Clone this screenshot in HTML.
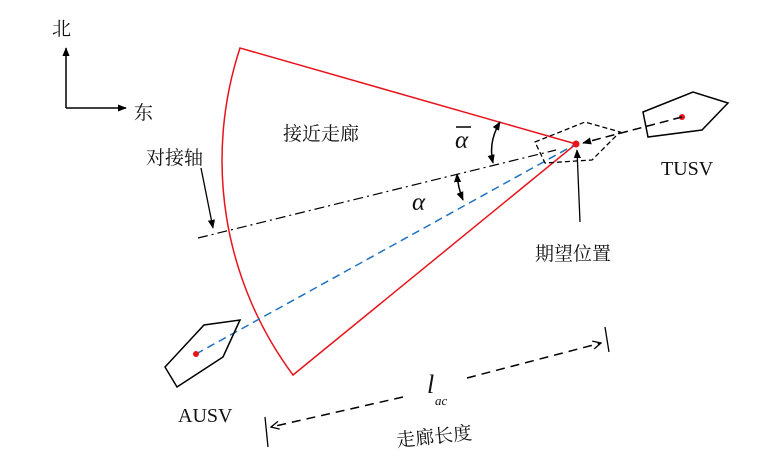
<!DOCTYPE html>
<html><head><meta charset="utf-8"><style>
html,body{margin:0;padding:0;background:#fff}
svg{display:block}
text{font-family:"Liberation Serif","Noto Serif CJK SC",serif;fill:#111}
.cj{font-family:"Liberation Serif","Noto Serif CJK SC",serif;font-size:19px}
</style></head><body>
<svg width="774" height="468" viewBox="0 0 774 468" xmlns="http://www.w3.org/2000/svg">
<defs>
<marker id="ah" viewBox="0 0 10 10" refX="9" refY="5" markerWidth="9" markerHeight="9" orient="auto-start-reverse" markerUnits="userSpaceOnUse"><path d="M0,1 L10,5 L0,9 Z" fill="#000"/></marker>
<marker id="oa" viewBox="0 0 10 10" refX="9" refY="5" markerWidth="10" markerHeight="10" orient="auto-start-reverse" markerUnits="userSpaceOnUse"><path d="M1,1 L9,5 L1,9" fill="none" stroke="#000" stroke-width="1.3"/></marker>
</defs>
<line x1="66" y1="108" x2="66" y2="48" stroke="#000" stroke-width="1.5" marker-end="url(#ah)"/>
<line x1="66" y1="108" x2="126" y2="108" stroke="#000" stroke-width="1.5" marker-end="url(#ah)"/>
<text x="52" y="35" class="cj">北</text>
<text x="134" y="119" class="cj">东</text>
<path d="M576,144 L240,48 A360 360 0 0 0 293,375 Z" fill="none" stroke="#e8141c" stroke-width="1.5"/>
<line x1="198" y1="238" x2="556" y2="150" stroke="#000" stroke-width="1.2" stroke-dasharray="10,4,2,4"/>
<line x1="196" y1="354" x2="576" y2="144" stroke="#1f72c0" stroke-width="1.5" stroke-dasharray="8,5"/>
<polygon points="165,367 204,325 240,320 223,357 177,387" fill="none" stroke="#000" stroke-width="1.5"/>
<circle cx="196" cy="354" r="3" fill="#e8141c"/>
<polygon points="643,112 693,92 728,103 702,130 648,137" fill="none" stroke="#000" stroke-width="1.5"/>
<circle cx="682" cy="117" r="3" fill="#e8141c"/>
<line x1="682" y1="117" x2="583" y2="143" stroke="#000" stroke-width="1.5" stroke-dasharray="9,5" marker-end="url(#ah)"/>
<polygon points="535,142 585,122 620,132 592,160 545,163" fill="none" stroke="#000" stroke-width="1.3" stroke-dasharray="5,3"/>
<circle cx="576" cy="144" r="3.5" fill="#e8141c"/>
<line x1="580" y1="222" x2="577" y2="150" stroke="#000" stroke-width="1.3" marker-end="url(#ah)"/>
<path d="M500,122 Q488,142 493,163" fill="none" stroke="#000" stroke-width="1.5" marker-start="url(#ah)" marker-end="url(#ah)"/>
<path d="M457,174 Q458,188 463,200" fill="none" stroke="#000" stroke-width="1.5" marker-start="url(#ah)" marker-end="url(#ah)"/>
<line x1="201" y1="168" x2="213" y2="228" stroke="#000" stroke-width="1.3" marker-end="url(#ah)"/>
<line x1="467" y1="378" x2="601" y2="343" stroke="#000" stroke-width="1.5" stroke-dasharray="9,6" marker-end="url(#oa)"/>
<line x1="605" y1="327" x2="609" y2="352" stroke="#000" stroke-width="1.3"/>
<line x1="403" y1="397" x2="271" y2="427" stroke="#000" stroke-width="1.5" stroke-dasharray="9,6" marker-end="url(#oa)"/>
<line x1="265" y1="417" x2="268" y2="447" stroke="#000" stroke-width="1.3"/>
<text x="283" y="140" class="cj">接近走廊</text>
<text x="146" y="164" class="cj">对接轴</text>
<text x="455" y="148" font-size="25" font-style="italic">α</text>
<line x1="456" y1="127" x2="471" y2="127" stroke="#000" stroke-width="1.5"/>
<text x="412" y="210" font-size="25" font-style="italic">α</text>
<text x="661" y="175" font-size="20">TUSV</text>
<text x="535" y="260" class="cj">期望位置</text>
<text x="178" y="422" font-size="20">AUSV</text>
<text x="427" y="393" font-size="26" font-style="italic">l</text>
<text x="435" y="405" font-size="13" font-style="italic">ac</text>
<text x="397" y="447" class="cj" transform="rotate(-6 397 447)">走廊长度</text>
</svg>
</body></html>
